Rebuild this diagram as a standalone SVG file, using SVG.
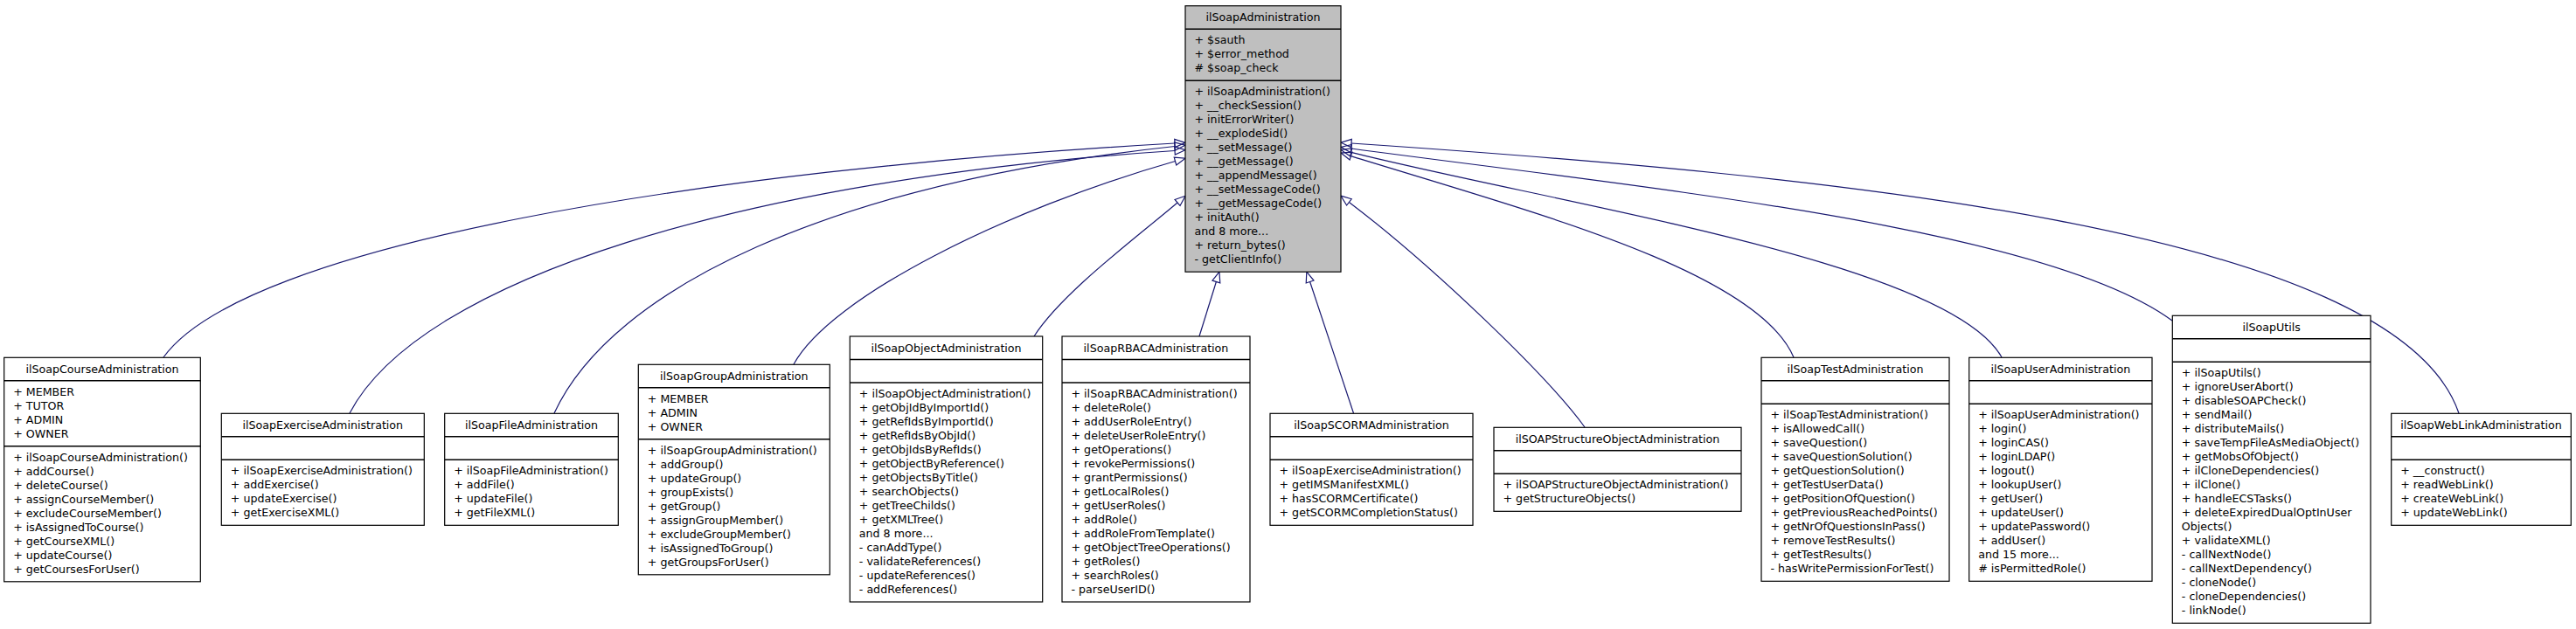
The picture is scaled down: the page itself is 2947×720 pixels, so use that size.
<svg xmlns="http://www.w3.org/2000/svg" width="2947" height="720" viewBox="0 0 2947 720">
<style>
.box{fill:#fff;stroke:#000;stroke-width:1.2}
.main{fill:#bfbfbf}
.div{stroke:#000;stroke-width:1.4}
text{font-family:"DejaVu Sans",Verdana,sans-serif;font-size:12.65px;fill:#000}
.t{text-anchor:middle}
.edge{fill:none;stroke:#191970;stroke-width:1.2;marker-end:url(#ah)}
</style>
<defs>
<marker id="ah" markerUnits="userSpaceOnUse" markerWidth="16" markerHeight="14" viewBox="0 0 16 14" refX="1" refY="7" orient="auto">
<path d="M1,2.4 L13,7 L1,11.6 Z" fill="none" stroke="#191970" stroke-width="1.2"/>
</marker>
</defs>
<rect width="2947" height="720" fill="#fff"/>
<g id="connectors">
<path class="edge" d="M187,409 C280,280 800,195 1344,164"/>
<path class="edge" d="M400,473 C480,320 850,205 1344,172.5"/>
<path class="edge" d="M634,473 C700,330 950,210 1344,167.5"/>
<path class="edge" d="M908,417 C950,340 1150,240 1344.5,184.5"/>
<path class="edge" d="M1183,385 C1215,335 1300,272 1347,232"/>
<path class="edge" d="M1372,385 L1391.4,322.5"/>
<path class="edge" d="M1548.5,473 L1498.6,322.5"/>
<path class="edge" d="M1813,489 C1770,430 1640,305 1543.4,231.4"/>
<path class="edge" d="M2052,409 C2010,310 1750,242 1545.5,178.6"/>
<path class="edge" d="M2290,409 C2230,300 1788,235 1545.6,174.4"/>
<path class="edge" d="M2485,367 C2340,260 1880,215 1545.8,170"/>
<path class="edge" d="M2813,473 C2740,260 2080,200 1546,164"/>
</g>
<g id="ilSoapAdministration">
<rect class="box main" x="1356" y="6.7" width="178" height="304.5"/>
<line class="div" x1="1356" y1="33.2" x2="1534" y2="33.2"/>
<line class="div" x1="1356" y1="92.2" x2="1534" y2="92.2"/>
<text class="t" x="1445" y="24.2">ilSoapAdministration</text>
<text x="1366.5" y="50.2"><tspan x="1366.5">+ $sauth</tspan><tspan x="1366.5" dy="16">+ $error_method</tspan><tspan x="1366.5" dy="16"># $soap_check</tspan></text>
<text x="1366.5" y="109.2"><tspan x="1366.5">+ ilSoapAdministration()</tspan><tspan x="1366.5" dy="16">+ __checkSession()</tspan><tspan x="1366.5" dy="16">+ initErrorWriter()</tspan><tspan x="1366.5" dy="16">+ __explodeSid()</tspan><tspan x="1366.5" dy="16">+ __setMessage()</tspan><tspan x="1366.5" dy="16">+ __getMessage()</tspan><tspan x="1366.5" dy="16">+ __appendMessage()</tspan><tspan x="1366.5" dy="16">+ __setMessageCode()</tspan><tspan x="1366.5" dy="16">+ __getMessageCode()</tspan><tspan x="1366.5" dy="16">+ initAuth()</tspan><tspan x="1366.5" dy="16">and 8 more...</tspan><tspan x="1366.5" dy="16">+ return_bytes()</tspan><tspan x="1366.5" dy="16">- getClientInfo()</tspan></text>
</g>
<g id="ilSoapCourseAdministration">
<rect class="box" x="4.7" y="409.3" width="224.6" height="256.5"/>
<line class="div" x1="4.7" y1="435.8" x2="229.3" y2="435.8"/>
<line class="div" x1="4.7" y1="510.8" x2="229.3" y2="510.8"/>
<text class="t" x="117" y="426.8">ilSoapCourseAdministration</text>
<text x="15.2" y="452.8"><tspan x="15.2">+ MEMBER</tspan><tspan x="15.2" dy="16">+ TUTOR</tspan><tspan x="15.2" dy="16">+ ADMIN</tspan><tspan x="15.2" dy="16">+ OWNER</tspan></text>
<text x="15.2" y="527.8"><tspan x="15.2">+ ilSoapCourseAdministration()</tspan><tspan x="15.2" dy="16">+ addCourse()</tspan><tspan x="15.2" dy="16">+ deleteCourse()</tspan><tspan x="15.2" dy="16">+ assignCourseMember()</tspan><tspan x="15.2" dy="16">+ excludeCourseMember()</tspan><tspan x="15.2" dy="16">+ isAssignedToCourse()</tspan><tspan x="15.2" dy="16">+ getCourseXML()</tspan><tspan x="15.2" dy="16">+ updateCourse()</tspan><tspan x="15.2" dy="16">+ getCoursesForUser()</tspan></text>
</g>
<g id="ilSoapExerciseAdministration">
<rect class="box" x="253.3" y="473.3" width="232" height="128"/>
<line class="div" x1="253.3" y1="499.8" x2="485.3" y2="499.8"/>
<line class="div" x1="253.3" y1="526.3" x2="485.3" y2="526.3"/>
<text class="t" x="369.3" y="490.8">ilSoapExerciseAdministration</text>
<text x="263.8" y="543.3"><tspan x="263.8">+ ilSoapExerciseAdministration()</tspan><tspan x="263.8" dy="16">+ addExercise()</tspan><tspan x="263.8" dy="16">+ updateExercise()</tspan><tspan x="263.8" dy="16">+ getExerciseXML()</tspan></text>
</g>
<g id="ilSoapFileAdministration">
<rect class="box" x="508.7" y="473.3" width="198.6" height="128"/>
<line class="div" x1="508.7" y1="499.8" x2="707.3" y2="499.8"/>
<line class="div" x1="508.7" y1="526.3" x2="707.3" y2="526.3"/>
<text class="t" x="608" y="490.8">ilSoapFileAdministration</text>
<text x="519.2" y="543.3"><tspan x="519.2">+ ilSoapFileAdministration()</tspan><tspan x="519.2" dy="16">+ addFile()</tspan><tspan x="519.2" dy="16">+ updateFile()</tspan><tspan x="519.2" dy="16">+ getFileXML()</tspan></text>
</g>
<g id="ilSoapGroupAdministration">
<rect class="box" x="730.3" y="417.3" width="219" height="240.5"/>
<line class="div" x1="730.3" y1="443.8" x2="949.3" y2="443.8"/>
<line class="div" x1="730.3" y1="502.8" x2="949.3" y2="502.8"/>
<text class="t" x="839.8" y="434.8">ilSoapGroupAdministration</text>
<text x="740.8" y="460.8"><tspan x="740.8">+ MEMBER</tspan><tspan x="740.8" dy="16">+ ADMIN</tspan><tspan x="740.8" dy="16">+ OWNER</tspan></text>
<text x="740.8" y="519.8"><tspan x="740.8">+ ilSoapGroupAdministration()</tspan><tspan x="740.8" dy="16">+ addGroup()</tspan><tspan x="740.8" dy="16">+ updateGroup()</tspan><tspan x="740.8" dy="16">+ groupExists()</tspan><tspan x="740.8" dy="16">+ getGroup()</tspan><tspan x="740.8" dy="16">+ assignGroupMember()</tspan><tspan x="740.8" dy="16">+ excludeGroupMember()</tspan><tspan x="740.8" dy="16">+ isAssignedToGroup()</tspan><tspan x="740.8" dy="16">+ getGroupsForUser()</tspan></text>
</g>
<g id="ilSoapObjectAdministration">
<rect class="box" x="972.3" y="385" width="220.4" height="304"/>
<line class="div" x1="972.3" y1="411.5" x2="1192.7" y2="411.5"/>
<line class="div" x1="972.3" y1="438" x2="1192.7" y2="438"/>
<text class="t" x="1082.5" y="402.5">ilSoapObjectAdministration</text>
<text x="982.8" y="455"><tspan x="982.8">+ ilSoapObjectAdministration()</tspan><tspan x="982.8" dy="16">+ getObjIdByImportId()</tspan><tspan x="982.8" dy="16">+ getRefIdsByImportId()</tspan><tspan x="982.8" dy="16">+ getRefIdsByObjId()</tspan><tspan x="982.8" dy="16">+ getObjIdsByRefIds()</tspan><tspan x="982.8" dy="16">+ getObjectByReference()</tspan><tspan x="982.8" dy="16">+ getObjectsByTitle()</tspan><tspan x="982.8" dy="16">+ searchObjects()</tspan><tspan x="982.8" dy="16">+ getTreeChilds()</tspan><tspan x="982.8" dy="16">+ getXMLTree()</tspan><tspan x="982.8" dy="16">and 8 more...</tspan><tspan x="982.8" dy="16">- canAddType()</tspan><tspan x="982.8" dy="16">- validateReferences()</tspan><tspan x="982.8" dy="16">- updateReferences()</tspan><tspan x="982.8" dy="16">- addReferences()</tspan></text>
</g>
<g id="ilSoapRBACAdministration">
<rect class="box" x="1215" y="385" width="215" height="304"/>
<line class="div" x1="1215" y1="411.5" x2="1430" y2="411.5"/>
<line class="div" x1="1215" y1="438" x2="1430" y2="438"/>
<text class="t" x="1322.5" y="402.5">ilSoapRBACAdministration</text>
<text x="1225.5" y="455"><tspan x="1225.5">+ ilSoapRBACAdministration()</tspan><tspan x="1225.5" dy="16">+ deleteRole()</tspan><tspan x="1225.5" dy="16">+ addUserRoleEntry()</tspan><tspan x="1225.5" dy="16">+ deleteUserRoleEntry()</tspan><tspan x="1225.5" dy="16">+ getOperations()</tspan><tspan x="1225.5" dy="16">+ revokePermissions()</tspan><tspan x="1225.5" dy="16">+ grantPermissions()</tspan><tspan x="1225.5" dy="16">+ getLocalRoles()</tspan><tspan x="1225.5" dy="16">+ getUserRoles()</tspan><tspan x="1225.5" dy="16">+ addRole()</tspan><tspan x="1225.5" dy="16">+ addRoleFromTemplate()</tspan><tspan x="1225.5" dy="16">+ getObjectTreeOperations()</tspan><tspan x="1225.5" dy="16">+ getRoles()</tspan><tspan x="1225.5" dy="16">+ searchRoles()</tspan><tspan x="1225.5" dy="16">- parseUserID()</tspan></text>
</g>
<g id="ilSoapSCORMAdministration">
<rect class="box" x="1453" y="473.3" width="232" height="128"/>
<line class="div" x1="1453" y1="499.8" x2="1685" y2="499.8"/>
<line class="div" x1="1453" y1="526.3" x2="1685" y2="526.3"/>
<text class="t" x="1569" y="490.8">ilSoapSCORMAdministration</text>
<text x="1463.5" y="543.3"><tspan x="1463.5">+ ilSoapExerciseAdministration()</tspan><tspan x="1463.5" dy="16">+ getIMSManifestXML()</tspan><tspan x="1463.5" dy="16">+ hasSCORMCertificate()</tspan><tspan x="1463.5" dy="16">+ getSCORMCompletionStatus()</tspan></text>
</g>
<g id="ilSOAPStructureObjectAdministration">
<rect class="box" x="1709" y="489.3" width="283" height="96"/>
<line class="div" x1="1709" y1="515.8" x2="1992" y2="515.8"/>
<line class="div" x1="1709" y1="542.3" x2="1992" y2="542.3"/>
<text class="t" x="1850.5" y="506.8">ilSOAPStructureObjectAdministration</text>
<text x="1719.5" y="559.3"><tspan x="1719.5">+ ilSOAPStructureObjectAdministration()</tspan><tspan x="1719.5" dy="16">+ getStructureObjects()</tspan></text>
</g>
<g id="ilSoapTestAdministration">
<rect class="box" x="2015" y="409.3" width="215" height="256"/>
<line class="div" x1="2015" y1="435.8" x2="2230" y2="435.8"/>
<line class="div" x1="2015" y1="462.3" x2="2230" y2="462.3"/>
<text class="t" x="2122.5" y="426.8">ilSoapTestAdministration</text>
<text x="2025.5" y="479.3"><tspan x="2025.5">+ ilSoapTestAdministration()</tspan><tspan x="2025.5" dy="16">+ isAllowedCall()</tspan><tspan x="2025.5" dy="16">+ saveQuestion()</tspan><tspan x="2025.5" dy="16">+ saveQuestionSolution()</tspan><tspan x="2025.5" dy="16">+ getQuestionSolution()</tspan><tspan x="2025.5" dy="16">+ getTestUserData()</tspan><tspan x="2025.5" dy="16">+ getPositionOfQuestion()</tspan><tspan x="2025.5" dy="16">+ getPreviousReachedPoints()</tspan><tspan x="2025.5" dy="16">+ getNrOfQuestionsInPass()</tspan><tspan x="2025.5" dy="16">+ removeTestResults()</tspan><tspan x="2025.5" dy="16">+ getTestResults()</tspan><tspan x="2025.5" dy="16">- hasWritePermissionForTest()</tspan></text>
</g>
<g id="ilSoapUserAdministration">
<rect class="box" x="2252.7" y="409.3" width="209.3" height="256"/>
<line class="div" x1="2252.7" y1="435.8" x2="2462" y2="435.8"/>
<line class="div" x1="2252.7" y1="462.3" x2="2462" y2="462.3"/>
<text class="t" x="2357.35" y="426.8">ilSoapUserAdministration</text>
<text x="2263.2" y="479.3"><tspan x="2263.2">+ ilSoapUserAdministration()</tspan><tspan x="2263.2" dy="16">+ login()</tspan><tspan x="2263.2" dy="16">+ loginCAS()</tspan><tspan x="2263.2" dy="16">+ loginLDAP()</tspan><tspan x="2263.2" dy="16">+ logout()</tspan><tspan x="2263.2" dy="16">+ lookupUser()</tspan><tspan x="2263.2" dy="16">+ getUser()</tspan><tspan x="2263.2" dy="16">+ updateUser()</tspan><tspan x="2263.2" dy="16">+ updatePassword()</tspan><tspan x="2263.2" dy="16">+ addUser()</tspan><tspan x="2263.2" dy="16">and 15 more...</tspan><tspan x="2263.2" dy="16"># isPermittedRole()</tspan></text>
</g>
<g id="ilSoapUtils">
<rect class="box" x="2485.3" y="361.3" width="226.7" height="352"/>
<line class="div" x1="2485.3" y1="387.8" x2="2712" y2="387.8"/>
<line class="div" x1="2485.3" y1="414.3" x2="2712" y2="414.3"/>
<text class="t" x="2598.65" y="378.8">ilSoapUtils</text>
<text x="2495.8" y="431.3"><tspan x="2495.8">+ ilSoapUtils()</tspan><tspan x="2495.8" dy="16">+ ignoreUserAbort()</tspan><tspan x="2495.8" dy="16">+ disableSOAPCheck()</tspan><tspan x="2495.8" dy="16">+ sendMail()</tspan><tspan x="2495.8" dy="16">+ distributeMails()</tspan><tspan x="2495.8" dy="16">+ saveTempFileAsMediaObject()</tspan><tspan x="2495.8" dy="16">+ getMobsOfObject()</tspan><tspan x="2495.8" dy="16">+ ilCloneDependencies()</tspan><tspan x="2495.8" dy="16">+ ilClone()</tspan><tspan x="2495.8" dy="16">+ handleECSTasks()</tspan><tspan x="2495.8" dy="16">+ deleteExpiredDualOptInUser</tspan><tspan x="2495.8" dy="16">Objects()</tspan><tspan x="2495.8" dy="16">+ validateXML()</tspan><tspan x="2495.8" dy="16">- callNextNode()</tspan><tspan x="2495.8" dy="16">- callNextDependency()</tspan><tspan x="2495.8" dy="16">- cloneNode()</tspan><tspan x="2495.8" dy="16">- cloneDependencies()</tspan><tspan x="2495.8" dy="16">- linkNode()</tspan></text>
</g>
<g id="ilSoapWebLinkAdministration">
<rect class="box" x="2735.7" y="473.3" width="205.6" height="128"/>
<line class="div" x1="2735.7" y1="499.8" x2="2941.3" y2="499.8"/>
<line class="div" x1="2735.7" y1="526.3" x2="2941.3" y2="526.3"/>
<text class="t" x="2838.5" y="490.8">ilSoapWebLinkAdministration</text>
<text x="2746.2" y="543.3"><tspan x="2746.2">+ __construct()</tspan><tspan x="2746.2" dy="16">+ readWebLink()</tspan><tspan x="2746.2" dy="16">+ createWebLink()</tspan><tspan x="2746.2" dy="16">+ updateWebLink()</tspan></text>
</g>
</svg>
